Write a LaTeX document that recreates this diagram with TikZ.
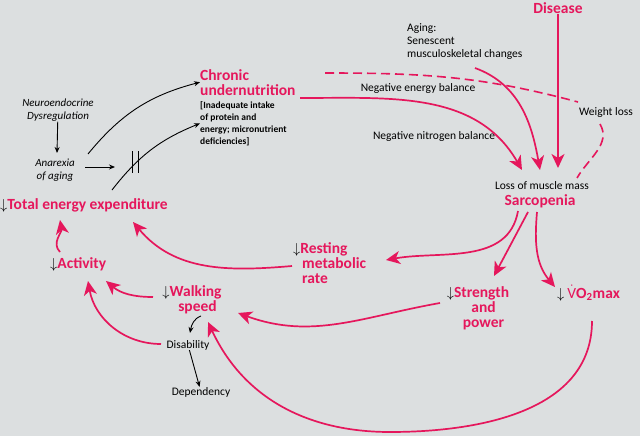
\documentclass[tikz,border=0pt]{standalone}
\usepackage{fontspec}
\setmainfont{Carlito}
\usetikzlibrary{arrows.meta}
\definecolor{pinkred}{HTML}{E5175C}
\definecolor{bggray}{HTML}{DCDFE0}
\tikzstyle{big} = [text=pinkred, font=\fontsize{15.5}{15}\selectfont\bfseries, inner sep=0]
\tikzstyle{small} = [font=\fontsize{11.5}{13}\selectfont, inner sep=0]
\tikzstyle{ital} = [font=\fontsize{11}{13.5}\selectfont\itshape, inner sep=0, align=center]
\tikzstyle{red arrow} = [draw=pinkred, line width=1.7pt, -{Stealth[length=14pt,width=13pt,inset=4pt]}]
\tikzstyle{black arrow} = [draw=black, line width=0.9pt, -{Stealth[length=6pt,width=5pt]}]
\newcommand{\dn}{\textcolor{black}{$\big\downarrow$}}

\begin{document}
\begin{tikzpicture}[x=1pt,y=-1pt]
	\fill[bggray] (0,0) rectangle (640,436);
	\useasboundingbox (0,0) rectangle (640,436);

	% upper part
	\node[big] (dis) at (558,8) {Disease};
	\node[small, anchor=north west, align=left] (aging) at (407,23) {Aging:\\Senescent\\musculoskeletal changes};
	\node[big, anchor=north west, align=left] (chronic) at (200,69) {Chronic\\undernutrition};
	\node[anchor=north west, align=left, inner sep=0, font=\fontsize{9.5}{12}\selectfont\bfseries] (inad) at (200,101)
		{[Inadequate intake\\of protein and\\energy; micronutrient\\deficiencies]};
	\node[ital] (neuro) at (58,110) {Neuroendocrine\\Dysregulation};
	\node[ital] (anorexia) at (55,170) {Anarexia\\of aging};
	\coordinate (block) at (115,167);
	\node[big, anchor=west] (tee) at (0,205) {\dn Total energy expenditure};

	\node[small] (neb) at (418,88) {Negative energy balance};
	\node[small] (nnb) at (434,136) {Negative nitrogen balance};
	\node[small] (loss) at (542,186) {Loss of muscle mass};
	\node[big] (sarc) at (540,201) {Sarcopenia};

	% lower part
	\node[big, anchor=west] (act) at (50,264) {\dn Activity};
	\node[big, anchor=north west, align=left] (rmr) at (293,242) {\dn Resting\\\hspace{9pt}metabolic\\\hspace{9pt}rate};
	\node[big, align=center] (walk) at (192,300) {\dn Walking\\\hspace{11pt}speed};
	\node[big, align=center] (str) at (478,308) {\dn Strength\\\hspace{11pt}and\\\hspace{11pt}power};
	\node[big, anchor=west] (vo) at (557,293) {\dn\hspace{3pt}$\dot{\mathrm{V}}$O\textsubscript{2}max};
	\node[small] (disab) at (188,345) {Disability};
	\node[small] (dep) at (201,392) {Dependency};

	% black connectors
	\draw[black arrow] (neuro) -- (57,153);
	\draw[black arrow] (85,167) -- (block);
	\draw[black arrow] (88,154) to[bend left=18] (chronic.west);
	\draw[black arrow] (112,190) to[bend left=15] (inad.west);
	\draw[black, line width=0.9pt] (132,151) -- (132,173) (138,151) -- (138,173);
	\draw[black arrow] (201,316) to[out=200, in=80] (190,333);
	\draw[black arrow] (disab) -- (dep);

	% red connectors
	\draw[pinkred, line width=1.6pt, dash pattern=on 9pt off 5pt]
		(325,73) to[out=0, in=165] (578,102);
	\draw[pinkred, line width=1.6pt, dash pattern=on 9pt off 5pt]
		(600,124) to[out=-60, in=60] (577,178);
	\node[small, fill=bggray, inner sep=1pt] (wl) at (606,112) {Weight loss};
	\draw[red arrow] (300,98) to[out=0, in=120] (522,170);
	\draw[red arrow] (475,68) to[out=-20, in=100] (540,170);
	\draw[red arrow] (dis) -- (558,168);
	\draw[red arrow] (518,211) to[out=-100, in=10] (386,260);
	\draw[red arrow] (528,212) -- (494,276);
	\draw[red arrow] (537,212) to[out=-95, in=130] (555,287);
	\draw[red arrow] (292,266) to[out=185, in=-50] (133,222);
	\draw[red arrow] (60,252) to[out=135, in=-80] (60,220);
	\draw[red arrow] (153,297) to[out=180, in=-40] (106,281);
	\draw[red arrow] (161,344) to[out=180, in=-80] (88,281);
	\draw[red arrow] (440,303) to[out=190, in=-20] (238,313);
	\draw[red arrow] (592,321) to[out=-90, in=0] (390,432) to[out=180, in=-65] (208,322);
\end{tikzpicture}
\end{document}
